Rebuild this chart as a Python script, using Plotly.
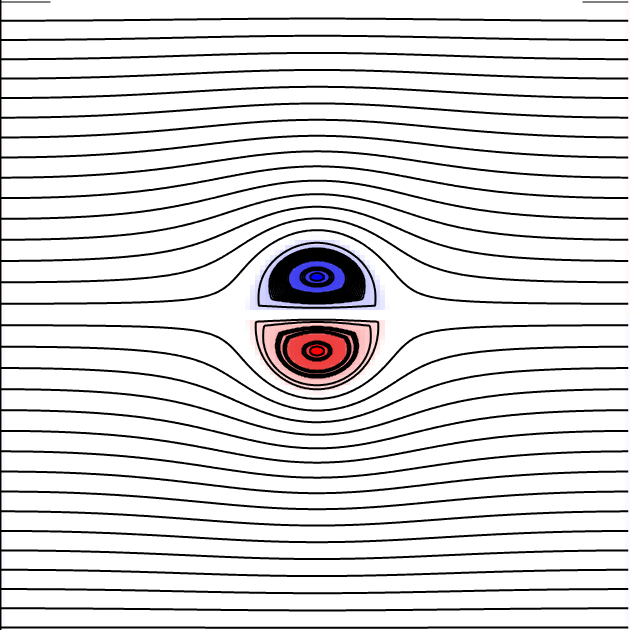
import numpy as np
import plotly.graph_objects as go
from math import factorial

# ---------------- values (pixel units, y up) ----------
DOMAIN = 630                 # periodic box size
CENTER = (317.0, 315.5)      # dipole centre (on the symmetry axis)
SEPARATRIX = (70.0, 78.0)    # half width / half height of the recirculating region
LAMB_SCALE = 1.35            # vorticity support relative to the separatrix
K_LAMB = 3.8317              # first zero of J1 (Lamb-Chaplygin dipole)
HALF_LEVELS = 15.55          # streamfunction at the top edge, in contour steps

# each vortex: half width, outer height, core height, flat-side height, inner ellipse
TOP_VORTEX = dict(a=69.0, b=76.0, yc=37.5, y0=3.5, ex=58.0, ey=33.0)
BOT_VORTEX = dict(a=69.0, b=78.0, yc=36.5, y0=3.5, ex=60.0, ey=38.0)
# closed streamlines inside each vortex (fraction of the way from core to edge)
TOP_RINGS = [0.12, 0.22, 0.25, 0.28, 0.50, 0.52, 0.54, 0.56, 0.58, 0.60, 0.62,
             0.64, 0.66, 0.68, 0.70, 0.72, 0.74, 0.76, 0.78, 0.91]
BOT_RINGS = [0.12, 0.20, 0.22, 0.24, 0.52, 0.535, 0.55, 0.62, 0.635, 0.65, 0.665,
             0.85, 0.93]

# vorticity magnitude versus relative distance from the core
SHADE_Q = [0.0, 0.1, 0.16, 0.48, 0.62, 0.8, 0.95, 1.04]
SHADE_S = [1.0, 1.0, 0.8, 0.76, 0.42, 0.3, 0.16, 0.0]
SHADE_POS = [0.0, 0.15, 0.3, 0.42, 0.76, 0.8, 1.0]
BLUES = ["#ffffff", "#e0e0ff", "#c8c8ff", "#acacfa", "#4444ee", "#3a3aee", "#0000ff"]
REDS = ["#ffffff", "#ffe0e0", "#ffc8c8", "#faacac", "#ee4444", "#ee3a3a", "#ff0000"]
EDGE_TINT = 0.03             # faint opposite-sign vorticity at the box sides


def besselj(n, z):
    s = np.zeros_like(z, dtype=float)
    for m in range(30):
        s = s + (-1) ** m / (factorial(m) * factorial(m + n)) * (z / 2.0) ** (2 * m + n)
    return s


N = DOMAIN
xs = np.arange(N) + 0.5
xc, yc = CENTER
ax, ay = SEPARATRIX
X, Y = np.meshgrid(xs - xc, xs - yc)

# ---- exterior flow: Lamb-type dipole in a periodic box, co-moving frame
Ax, Ay = ax * LAMB_SCALE, ay * LAMB_SCALE
rho = np.sqrt((X / Ax) ** 2 + (Y / Ay) ** 2)
kr = K_LAMB * np.maximum(rho, 1e-9)
j0k = besselj(0, np.array(K_LAMB))
psi_lamb = Y * 2.0 * besselj(1, kr) / (kr * j0k)
omega = np.where(rho < 1.0, K_LAMB ** 2 / (Ax * Ay) * psi_lamb, 0.0)
k = 2 * np.pi * np.fft.fftfreq(N, d=1.0)
KX, KY = np.meshgrid(k, k)
K2 = KX ** 2 + KY ** 2
K2[0, 0] = 1.0
ph = np.fft.fft2(omega) / K2
ph[0, 0] = 0.0
psi_per = np.real(np.fft.ifft2(ph))
ix0 = int(round(xc - 0.5))
yt = yc + ay - 0.5
i0 = int(np.floor(yt))
w = yt - i0
U = -((1 - w) * psi_per[i0, ix0] + w * psi_per[i0 + 1, ix0]) / ay
psi = psi_per + U * Y
psi = psi / (np.mean(psi[-1, :]) / HALF_LEVELS)
closed = ((Y > 0) & (psi < 0)) | ((Y < 0) & (psi > 0))
z_out = np.where(closed, 0.0, psi)


# ---- interior: nested closed streamlines of each vortex
def q_field(Xr, Yr, a, b, yc, y0, ex, ey):
    dx, dy = Xr, Yr - yc
    d = np.hypot(dx, dy)
    dd = np.maximum(d, 1e-9)
    c, s = dx / dd, dy / dd
    A = c ** 2 / a ** 2 + s ** 2 / b ** 2
    B = 2 * yc * s / b ** 2
    Cc = yc ** 2 / b ** 2 - 1
    te = (-B + np.sqrt(B ** 2 - 4 * A * Cc)) / (2 * A)
    tf = np.where(s < -1e-9, (yc - y0) / np.maximum(-s, 1e-9), np.inf)
    rd = np.minimum(te, tf)
    re = 1.0 / np.sqrt(c ** 2 / ex ** 2 + s ** 2 / ey ** 2)
    q = d / rd
    for _ in range(25):
        wq = np.clip(q, 0, 1) ** 2
        r = np.exp(wq * np.log(rd) + (1 - wq) * np.log(re))
        q = d / r
    return np.where(Yr >= y0, q, 9.0)


def ring_map(v, levels):
    lv = np.sort(np.array(levels))
    n = len(lv)
    xp = np.concatenate([[0.0], lv, [1.0001]])
    fp = np.concatenate([[0.0], np.arange(n) + 0.5, [n]])
    return np.interp(v, xp, fp), n


qt = q_field(X, Y, **TOP_VORTEX)
qb = q_field(X, -Y, **BOT_VORTEX)
vt = np.where(qt < 1, 1 - qt, 0.0)
vb = np.where(qb < 1, 1 - qb, 0.0)
Tt, nt = ring_map(vt, [1 - r for r in TOP_RINGS])
Tb, nb = ring_map(vb, [1 - r for r in BOT_RINGS])
z_in = Tt - Tb

# ---- vorticity map on 5 px cells
C = 5
M = N // C
hc = (np.arange(M) + 0.5) * C
HX, HY = np.meshgrid(hc - xc, hc - yc)
hqt = q_field(HX, HY, **TOP_VORTEX)
hqb = q_field(HX, -HY, **BOT_VORTEX)
sh = (np.interp(hqb, SHADE_Q, SHADE_S, right=0.0)
      - np.interp(hqt, SHADE_Q, SHADE_S, right=0.0))
edge = np.zeros_like(sh)
edge[:, 0] = EDGE_TINT
edge[:, -1] = EDGE_TINT
sh = sh + edge * np.sign(HY)

cs = []
for p, c in zip(SHADE_POS[::-1], BLUES[::-1]):
    cs.append([(1 - p) / 2, c])
for p, c in zip(SHADE_POS[1:], REDS[1:]):
    cs.append([(1 + p) / 2, c])

sub = slice(0, N, 2)
cx = xs[sub]

fig = go.Figure()
fig.add_trace(go.Heatmap(x=hc, y=hc, z=np.round(sh, 4), zmin=-1, zmax=1,
                         colorscale=cs, showscale=False, zsmooth=False,
                         hoverinfo="skip"))
nmax = int(np.ceil(np.abs(z_out).max()))
fig.add_trace(go.Contour(x=cx, y=cx, z=np.round(z_out[sub, sub], 4),
                         contours=dict(start=-nmax - 0.5, end=nmax + 0.5, size=1,
                                       coloring="none"),
                         line=dict(color="black", width=2.0), showscale=False,
                         hoverinfo="skip"))
fig.add_trace(go.Contour(x=xs, y=xs, z=np.round(z_in, 4),
                         contours=dict(start=-(nb - 0.5), end=nt - 0.5, size=1,
                                       coloring="none"),
                         line=dict(color="black", width=2.0), showscale=False,
                         hoverinfo="skip"))
fig.add_shape(type="line", x0=0.7, x1=0.7, y0=0, y1=DOMAIN,
              line=dict(color="black", width=1.5))
fig.update_layout(width=630, height=630, margin=dict(l=0, r=0, t=0, b=0),
                  paper_bgcolor="white", plot_bgcolor="white",
                  xaxis=dict(range=[0, DOMAIN], visible=False),
                  yaxis=dict(range=[0, DOMAIN], visible=False),
                  showlegend=False)
fig.write_html("out.html")
